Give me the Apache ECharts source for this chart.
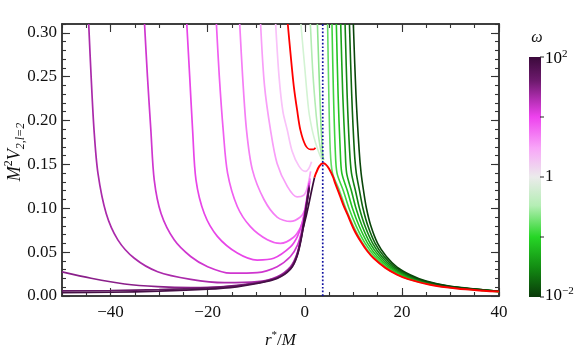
<!DOCTYPE html>
<html><head><meta charset="utf-8">
<script src="https://cdn.jsdelivr.net/npm/echarts@6/dist/echarts.min.js"></script>
<style>html,body{margin:0;padding:0;background:#fff}#c{width:581px;height:348px}</style>
</head><body><div id="c"></div>
<script>
// ---- data ----
const xMajor = [-40, -20, 0, 20, 40];
const xMinor = [-50,-45,-40,-35,-30,-25,-20,-15,-10,-5,0,5,10,15,20,25,30,35,40];
const yMajor = [0, 0.05, 0.10, 0.15, 0.20, 0.25, 0.30];
const yMinor = [0.01,0.02,0.03,0.04,0.05,0.06,0.07,0.08,0.09,0.10,0.11,0.12,0.13,0.14,0.15,0.16,0.17,0.18,0.19,0.20,0.21,0.22,0.23,0.24,0.25,0.26,0.27,0.28,0.29,0.30,0.31];
const photonSphereX = 3.7;

// omega > 1 curves (pink -> dark purple), log10(omega) = 0.2 ... 2.0
const pink1 = [[-6.0,0.31],[-5.3,0.25],[-4.5,0.21],[-3.6,0.189],[-2.6,0.165],[-1.2,0.148],[0.1,0.142],[0.8,0.145],[1.4,0.153]];
const pink2 = [[-9.1,0.31],[-8.3,0.24],[-7.05,0.189],[-5.7,0.151],[-3.6,0.125],[-1.6,0.113],[-0.2,0.115],[0.5,0.123],[1.2,0.142]];
const pink3 = [[-13.4,0.31],[-12.8,0.25],[-12.0,0.189],[-10.8,0.144],[-8.4,0.11],[-5.7,0.09],[-2.95,0.085],[-0.9,0.09],[0.0,0.098],[0.6,0.112],[1.1,0.134]];
const pink4 = [[-18.2,0.31],[-17.6,0.25],[-16.8,0.189],[-15.9,0.14],[-13.9,0.102],[-11.2,0.079],[-7.7,0.064],[-5.0,0.06],[-2.3,0.067],[-0.9,0.078],[-0.2,0.09],[0.5,0.11],[1.0,0.131]];
const pink5 = [[-24.3,0.31],[-23.7,0.25],[-23.1,0.189],[-22.4,0.132],[-20.7,0.094],[-18.0,0.068],[-13.9,0.049],[-9.8,0.041],[-6.4,0.043],[-2.95,0.056],[-1.5,0.068],[-0.5,0.084],[0.2,0.104],[0.9,0.129]];
const pink6 = [[-33.0,0.31],[-32.4,0.25],[-31.7,0.189],[-31.0,0.132],[-29.6,0.094],[-26.9,0.064],[-23.5,0.045],[-20.0,0.0334],[-15.3,0.026],[-9.8,0.0266],[-5.7,0.0334],[-2.95,0.045],[-1.5,0.058],[-0.6,0.075],[0.2,0.1],[0.9,0.127]];
const pink7 = [[-44.5,0.31],[-44.0,0.25],[-43.4,0.189],[-42.6,0.14],[-40.9,0.094],[-38.5,0.064],[-35.1,0.043],[-30.3,0.0277],[-23.5,0.019],[-16.6,0.0152],[-9.8,0.0163],[-5.7,0.022],[-2.95,0.0334],[-1.6,0.048],[-0.6,0.072],[0.2,0.1],[0.9,0.126]];
const pink8 = [[-50,0.0275],[-44,0.0202],[-37.1,0.0137],[-30.3,0.0106],[-23.5,0.0095],[-16.6,0.0106],[-9.8,0.0152],[-5.7,0.021],[-2.95,0.032],[-1.6,0.047],[-0.6,0.071],[0.2,0.099],[0.9,0.125]];
const pink9 = [[-50,0.0058],[-40,0.0062],[-30,0.0072],[-20,0.0092],[-14,0.0115],[-9.8,0.0148],[-5.7,0.0205],[-2.95,0.031],[-1.6,0.046],[-0.6,0.070],[0.2,0.098],[0.9,0.124]];
const pink10 = [[-50,0.0038],[-40,0.0043],[-30,0.0055],[-20,0.0078],[-14,0.0105],[-9.8,0.0142],[-5.7,0.02],[-2.95,0.0305],[-1.6,0.045],[-0.6,0.069],[0.2,0.097],[0.9,0.123]];
const darkSegment = [[-0.35,0.077],[0.2,0.089],[0.8,0.104],[1.4,0.12],[2.0,0.135]];

// omega < 1 curves (light green -> dark green), log10(omega) = -0.2 ... -2.0
const green1 = [[-0.8,0.31],[0.0,0.26],[0.8,0.212],[1.5,0.19],[2.2,0.175],[2.8,0.165],[3.3,0.158],[3.7,0.154]];
const green2 = [[1.15,0.31],[1.6,0.26],[2.1,0.222],[2.6,0.193],[3.1,0.172],[3.5,0.16],[3.8,0.155]];
const green3 = [[2.6,0.31],[2.9,0.26],[3.15,0.222],[3.35,0.193],[3.55,0.172],[3.7,0.16],[3.9,0.155]];
const green4 = [[4.7,0.31],[4.95,0.23],[5.25,0.166],[5.71,0.14],[7.16,0.12],[8.43,0.10],[9.99,0.08],[11.96,0.06],[14.05,0.045],[16.44,0.033],[19.24,0.024],[22.72,0.017],[28.1,0.011],[40,0.0049]];
const green5 = [[5.6,0.31],[5.91,0.23],[6.28,0.166],[6.64,0.14],[7.94,0.12],[9.1,0.10],[10.56,0.08],[12.44,0.06],[14.48,0.045],[16.84,0.033],[19.64,0.024],[23.08,0.017],[28.4,0.011],[40,0.005]];
const green6 = [[6.5,0.31],[6.86,0.23],[7.3,0.166],[7.63,0.14],[8.77,0.12],[9.82,0.10],[11.17,0.08],[12.95,0.06],[14.94,0.045],[17.27,0.033],[20.07,0.024],[23.46,0.017],[28.72,0.011],[40,0.0051]];
const green7 = [[7.4,0.31],[7.82,0.23],[8.33,0.166],[8.62,0.14],[9.6,0.12],[10.54,0.10],[11.78,0.08],[13.46,0.06],[15.41,0.045],[17.7,0.033],[20.5,0.024],[23.85,0.017],[29.04,0.011],[40,0.0052]];
const green8 = [[8.3,0.31],[8.72,0.23],[9.23,0.166],[9.62,0.14],[10.44,0.12],[11.26,0.10],[12.38,0.08],[13.98,0.06],[15.87,0.045],[18.14,0.033],[20.94,0.024],[24.23,0.017],[29.36,0.011],[40,0.0053]];
const green9 = [[9.2,0.31],[9.66,0.23],[10.2,0.166],[10.61,0.14],[11.27,0.12],[11.98,0.10],[12.99,0.08],[14.49,0.06],[16.34,0.045],[18.57,0.033],[21.37,0.024],[24.62,0.017],[29.68,0.011],[40,0.0054]];
const green10 = [[10.0,0.31],[10.54,0.23],[11.2,0.166],[11.6,0.14],[12.1,0.12],[12.7,0.10],[13.6,0.08],[15.0,0.06],[16.8,0.045],[19.0,0.033],[21.8,0.024],[25.0,0.017],[30.0,0.011],[40,0.0055]];

// red curves: omega = 1 branch and the Regge-Wheeler potential
const redUpper = [[-3.5,0.31],[-2.95,0.277],[-2.26,0.239],[-1.58,0.212],[-0.9,0.189],[0.12,0.172],[1.15,0.167],[1.8,0.167],[2.2,0.169]];
const redRW = [[2.0,0.135],[2.35,0.1405],[3.0,0.148],[3.77,0.1513],[4.3,0.15],[5.0,0.145],[5.8,0.136],[6.3,0.128],[7.2,0.115],[8.0,0.103],[8.8,0.093],[10.2,0.075],[11.6,0.0615],[12.9,0.051],[14.2,0.043],[16.6,0.032],[19.0,0.0244],[21.3,0.0192],[25.8,0.0128],[31.3,0.0085],[36.9,0.006],[40,0.005]];

const pinkColors = ['#f9c2f9','#f89ef8','#f57ef5','#f05ef0','#e845e8','#cf36cf','#aa2aaa','#8a1f8a','#661866','#451045'];
const greenColors = ['#d3f3d3','#b3ecb3','#8ee48e','#66dc66','#3fd43f','#22c222','#1aa21a','#138313','#0e640e','#0a450a'];

// ---- chart ----
const FONT = 'Liberation Serif';
const chart = echarts.init(document.getElementById('c'));
const pinks = [pink1,pink2,pink3,pink4,pink5,pink6,pink7,pink8,pink9,pink10];
const greens = [green1,green2,green3,green4,green5,green6,green7,green8,green9,green10];

function mk(data, color, width, z, extra) {
  return Object.assign({
    type: 'line', data: data, showSymbol: false, symbol: 'none', smooth: 0.3,
    lineStyle: { color: color, width: width }, z: z, silent: true, clip: true, animation: false
  }, extra || {});
}
const series = [];
pinks.forEach((d, i) => series.push(mk(d, pinkColors[i], 1.7, 2)));
greens.forEach((d, i) => series.push(mk(d, greenColors[i], 1.6, 2)));
series.push(mk(darkSegment, '#3a0c3a', 1.7, 3));
series.push(mk(redUpper, '#ff0000', 1.8, 4));
series.push(mk(redRW, '#ff0000', 2.0, 4));
series.push(mk([[photonSphereX, 0], [photonSphereX, 0.31]], '#1010a0', 1.6, 5, { smooth: false, lineStyle: { color: '#1010a0', width: 1.7, type: [1.7, 2] } }));

const axLine = { show: true, onZero: false, lineStyle: { color: '#333', width: 1.5 } };
function xAx(pos, ticks, len, label, name) {
  const a = {
    type: 'value', min: -50, max: 40, position: pos, axisLine: axLine,
    axisTick: { show: true, inside: true, length: len, customValues: ticks, lineStyle: { color: '#333', width: 1.1 } },
    axisLabel: label ? { show: true, customValues: xMajor, margin: 8, fontFamily: FONT, fontSize: 17, color: '#111',
      formatter: v => v < 0 ? '\u2212' + (-v) : String(v) } : { show: false },
    splitLine: { show: false }
  };
  if (name) {
    a.name = '{i|r}{s|*}{n|/}{i|M}';
    a.nameLocation = 'middle'; a.nameGap = 34;
    a.nameTextStyle = { rich: {
      i: { fontFamily: FONT, fontStyle: 'italic', fontSize: 17, color: '#111', lineHeight: 22 },
      n: { fontFamily: FONT, fontSize: 17, color: '#111', lineHeight: 22 },
      s: { fontFamily: FONT, fontSize: 11, color: '#111', lineHeight: 11, verticalAlign: 'top' } } };
  }
  return a;
}
function yAx(pos, ticks, len, label) {
  return {
    type: 'value', min: 0, max: 0.31, position: pos, axisLine: axLine,
    axisTick: { show: true, inside: true, length: len, customValues: ticks, lineStyle: { color: '#333', width: 1.1 } },
    axisLabel: label ? { show: true, customValues: yMajor, margin: 5, fontFamily: FONT, fontSize: 17, color: '#111',
      formatter: v => v.toFixed(2) } : { show: false },
    splitLine: { show: false }
  };
}

const cbStops = [
  { offset: 0, color: '#3b0a3b' }, { offset: 0.1, color: '#6e1a6e' }, { offset: 0.18, color: '#b52fb5' },
  { offset: 0.25, color: '#ee42ee' }, { offset: 0.38, color: '#f8a6f8' }, { offset: 0.5, color: '#ebebeb' },
  { offset: 0.62, color: '#b4eeb4' }, { offset: 0.75, color: '#26d626' }, { offset: 0.88, color: '#128a12' },
  { offset: 1, color: '#0a3a0a' }];
const cbTop = 57, cbH = 240, cbX = 529, cbW = 12;
const graphics = [
  { type: 'rect', shape: { x: cbX, y: cbTop, width: cbW, height: cbH },
    style: { fill: new echarts.graphic.LinearGradient(0, 0, 0, 1, cbStops) } }
];
[0, 0.25, 0.5, 0.75, 1].forEach(f => graphics.push({ type: 'line',
  shape: { x1: cbX + cbW - 1, y1: cbTop + f * cbH, x2: cbX + cbW + 3, y2: cbTop + f * cbH },
  style: { stroke: '#222', lineWidth: 1 } }));
const supRich = {
  a: { fontFamily: FONT, fontSize: 17, color: '#111', lineHeight: 20 },
  s: { fontFamily: FONT, fontSize: 11, color: '#111', lineHeight: 11, verticalAlign: 'top' } };
graphics.push({ type: 'text', x: 545, y: cbTop + 2, style: { text: '{a|10}{s|2}', rich: supRich, verticalAlign: 'middle', align: 'left' } });
graphics.push({ type: 'text', x: 545, y: cbTop + cbH / 2, style: { text: '1', fontFamily: FONT, fontSize: 17, fill: '#111', verticalAlign: 'middle', align: 'left' } });
graphics.push({ type: 'text', x: 545, y: cbTop + cbH - 1, style: { text: '{a|10}{s|\u22122}', rich: supRich, verticalAlign: 'middle', align: 'left' } });
graphics.push({ type: 'text', x: 537, y: 38, style: { text: '\u03c9', fontFamily: FONT, fontStyle: 'italic', fontSize: 16, fill: '#111', verticalAlign: 'middle', align: 'center' } });
// y-axis title, rotated
graphics.push({ type: 'text', x: 15, y: 152, rotation: Math.PI / 2, style: {
  text: '{i|M}{s|2}{i|V}{b|2,l=2}', align: 'center', verticalAlign: 'middle',
  rich: {
    i: { fontFamily: FONT, fontStyle: 'italic', fontSize: 18, fill: '#111', lineHeight: 24 },
    s: { fontFamily: FONT, fontSize: 12, fill: '#111', lineHeight: 12, verticalAlign: 'top' },
    b: { fontFamily: FONT, fontStyle: 'italic', fontSize: 12, fill: '#111', lineHeight: 12, verticalAlign: 'bottom' }
  } } });

chart.setOption({
  backgroundColor: '#fff',
  animation: false,
  grid: { left: 62, right: 82, top: 24, bottom: 52, containLabel: false, outerBoundsMode: 'none' },
  xAxis: [
    xAx('bottom', xMajor, 8, true, true),
    xAx('bottom', xMinor, 4, false, false),
    xAx('top', xMajor, 8, false, false),
    xAx('top', xMinor, 4, false, false)
  ],
  yAxis: [
    yAx('left', yMajor, 8, true),
    yAx('left', yMinor, 4, false),
    yAx('right', yMajor, 8, false),
    yAx('right', yMinor, 4, false)
  ],
  series: series,
  graphic: graphics
});
</script></body></html>
